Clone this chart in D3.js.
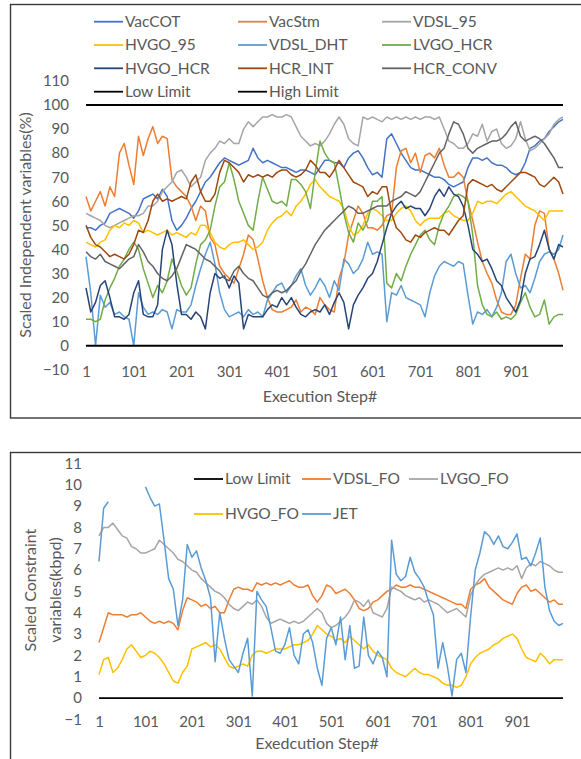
<!DOCTYPE html>
<html>
<head>
<meta charset="utf-8">
<script src="https://cdn.jsdelivr.net/npm/d3@7"></script>
<style>
  body { margin: 0; background: #fff; }
  text { font-family: Lato, "Open Sans", sans-serif; fill: #595959; }
</style>
</head>
<body>
<svg id="chart" width="581" height="759"></svg>
<script>
"use strict";

// execution steps sampled every 10 steps (1..991) plus the last one
var steps = d3.range(1, 1000, 10).concat([1000]);
var xTicks = [1, 101, 201, 301, 401, 501, 601, 701, 801, 901];
var yTicksTop = [-10, 0, 10, 20, 30, 40, 50, 60, 70, 80, 90, 100, 110];
var yTicksBottom = [-1, 0, 1, 2, 3, 4, 5, 6, 7, 8, 9, 10, 11];

// ---- top chart: scaled independent variables (%) ----
var vacCOT = [
  49,49,48,50,51,55,56,57,56,55,
  53,56,61,62,63,61,65,62,52,48,
  50,53,57,60,64,68,70,73,76,78,
  77,76,75,76,77,82,78,76,77,76,
  75,74,74,73,72,73,73,72,71,74,
  77,77,76,76,74,78,80,81,78,74,
  71,72,70,86,88,84,80,77,74,73,
  73,72,71,70,70,69,67,66,67,68,
  74,78,78,77,78,76,75,75,74,72,
  71,72,76,82,83,85,86,89,91,93,
  94];
var vacStm = [
  62,56,60,64,58,66,62,80,84,75,
  67,87,79,86,91,84,87,86,69,66,
  64,62,58,52,58,56,45,42,33,30,
  28,26,32,38,46,44,36,27,20,15,
  14,14,15,16,19,14,16,15,13,20,
  17,15,14,28,34,46,52,58,55,49,
  49,48,50,54,55,74,81,82,76,80,
  72,79,80,78,82,75,70,70,72,70,
  60,52,43,35,30,26,19,14,13,13,
  17,28,38,36,50,56,55,40,36,30,
  23];
var vdsl95 = [
  55,54,53,52,50,49,50,51,52,53,
  54,54,55,58,58,60,64,66,68,72,
  73,70,66,68,70,77,80,82,85,84,
  86,84,84,90,93,91,93,95,95,96,
  95,95,96,95,91,87,85,83,84,83,
  85,88,92,95,92,86,84,83,95,94,
  95,94,93,95,94,95,94,95,94,95,
  94,95,95,94,95,90,85,84,82,82,
  84,88,87,92,85,89,90,84,82,83,
  86,93,86,81,82,84,86,88,92,94,
  95];
var hvgo95 = [
  43,42,41,43,44,48,50,49,51,50,
  52,51,47,48,47,46,47,48,46,47,
  46,45,47,46,50,50,47,43,41,40,
  42,43,43,44,42,40,41,43,48,51,
  53,54,56,54,58,60,63,67,69,66,
  64,62,61,60,57,50,46,47,50,55,
  57,56,54,52,52,55,57,58,56,52,
  50,52,53,53,53,55,56,54,53,52,
  52,55,60,59,60,60,59,61,63,64,
  62,60,58,57,56,54,52,56,56,56,
  56];
var vdslDHT = [
  37,22,0,21,16,18,13,14,12,11,
  0,22,16,13,14,13,15,14,7,15,
  14,14,17,25,32,38,43,34,22,15,
  12,13,14,12,15,13,14,12,19,22,
  25,26,22,25,29,32,25,21,24,28,
  25,20,27,23,36,34,30,32,36,43,
  38,39,38,10,22,21,25,20,19,18,
  17,12,22,29,33,35,34,33,35,34,
  21,9,14,13,15,12,16,22,35,38,
  30,24,25,22,28,35,38,39,38,40,
  46];
var lvgoHCR = [
  11,11,10,11,19,24,28,33,36,40,
  43,40,32,26,20,25,22,27,36,31,
  25,21,24,34,42,44,48,58,66,68,
  76,69,60,55,50,48,60,70,65,60,
  59,60,58,69,69,67,64,57,72,85,
  80,77,76,66,55,47,43,51,48,52,
  60,60,62,26,24,30,27,33,38,42,
  46,48,44,42,50,55,58,62,63,62,
  60,46,25,17,13,12,14,11,12,11,
  13,18,22,16,12,13,19,9,12,13,
  13];
var hvgoHCR = [
  24,14,18,25,27,20,12,12,11,13,
  22,27,13,12,12,17,40,48,42,26,
  13,13,11,14,12,7,22,30,28,29,
  24,29,26,7,13,12,12,12,15,17,
  16,20,17,20,16,13,12,14,15,14,
  17,13,18,22,18,7,17,21,24,28,
  30,35,42,49,55,58,60,57,58,57,
  57,54,57,62,65,62,66,63,62,58,
  50,40,38,35,36,32,27,25,20,17,
  14,19,30,36,37,42,48,40,36,42,
  41];
var hcrINT = [
  50,45,42,41,39,37,38,37,36,38,
  42,48,47,52,60,63,60,61,60,61,
  62,61,68,71,64,60,60,63,72,77,
  76,74,72,68,71,70,71,70,71,70,
  72,73,73,71,70,71,73,77,75,72,
  72,70,73,77,74,71,68,67,66,62,
  64,63,66,66,55,49,47,44,43,46,
  45,47,48,49,48,48,46,49,52,54,
  67,69,68,67,66,67,65,64,66,68,
  70,72,72,71,70,67,66,68,70,68,
  63];
var hcrCONV = [
  39,37,36,38,35,34,33,32,34,36,
  37,42,39,35,33,30,28,27,29,32,
  37,42,41,40,38,36,35,33,31,28,
  27,31,33,30,28,27,24,21,20,22,
  23,22,23,25,27,31,34,38,42,45,
  48,50,52,54,56,58,57,55,55,56,
  57,58,58,58,60,61,62,64,63,62,
  64,68,72,76,80,82,88,93,92,88,
  82,80,82,83,84,85,85,86,88,91,
  93,87,85,86,87,86,84,81,78,74,
  74];
var topLimits = [0, 100];

// ---- bottom chart: scaled constraint variables (kbpd) ----
var vdslFO = [
  2.6,3.3,4.0,3.9,3.9,3.9,3.8,3.9,3.9,4.0,
  3.8,3.6,3.5,3.6,3.5,3.6,3.5,3.2,4.1,4.7,
  4.6,4.5,4.3,4.4,4.2,4.3,4.0,4.0,4.6,5.1,
  5.2,5.1,5.1,5.0,5.4,5.3,5.4,5.3,5.4,5.3,
  5.4,5.5,5.3,5.2,5.2,5.3,4.8,4.5,4.8,5.3,
  5.2,4.9,5.0,5.1,4.9,4.6,4.2,4.1,4.2,4.5,
  4.6,4.8,5.0,5.1,5.3,5.2,5.2,5.3,5.2,5.2,
  5.1,5.0,4.9,4.8,4.7,4.6,4.5,4.4,4.4,4.2,
  5.1,5.3,5.4,5.6,5.2,5.0,4.8,4.6,4.5,4.4,
  4.9,5.2,5.3,5.0,5.1,4.9,4.7,4.5,4.6,4.4,
  4.4];
var lvgoFO = [
  7.6,8.0,8.0,8.2,7.9,7.6,7.5,7.1,7.0,6.8,
  6.8,6.9,7.0,7.4,7.2,7.0,6.8,6.5,6.4,6.2,
  6.0,5.9,5.6,5.4,5.2,5.0,4.9,4.7,4.4,4.2,
  4.1,4.3,4.5,4.4,4.6,4.3,3.8,3.5,3.6,3.7,
  3.6,3.5,3.6,3.5,3.6,3.8,4.0,4.2,4.0,3.5,
  3.3,3.4,3.6,3.8,4.1,4.6,4.5,4.3,4.6,4.0,
  3.9,3.8,4.2,5.2,5.1,5.0,4.8,4.7,4.6,4.7,
  4.5,4.6,4.5,4.4,4.2,4.0,4.1,4.2,4.0,3.8,
  4.8,5.3,5.6,5.8,5.9,6.0,6.1,6.0,6.1,6.0,
  6.2,5.6,6.1,6.3,6.2,6.4,6.3,6.2,6.0,5.9,
  5.9];
var hvgoFO = [
  1.1,1.8,1.9,1.2,1.4,1.8,2.3,2.5,2.2,1.9,
  2.0,2.2,2.1,1.9,1.6,1.2,0.8,0.7,1.2,1.5,
  2.3,2.4,2.5,2.6,2.4,2.5,2.3,1.9,1.5,1.4,
  1.5,1.6,1.5,2.0,2.2,2.2,2.1,2.2,2.3,2.3,
  2.3,2.4,2.5,2.5,2.6,2.7,3.0,3.4,3.2,3.0,
  2.9,2.7,2.8,2.6,2.9,2.7,2.5,2.3,2.5,2.2,
  2.0,1.9,1.8,1.4,1.2,1.1,1.0,1.2,1.4,1.2,
  1.1,1.1,1.0,0.9,0.7,0.6,0.6,0.5,0.6,1.0,
  1.6,1.9,2.1,2.2,2.3,2.5,2.6,2.8,2.9,3.0,
  2.8,2.3,1.9,1.8,1.7,2.1,1.9,1.6,1.8,1.8,
  1.8];
var jet = [
  6.4,8.9,9.2,null,null,null,null,null,null,null,
  9.9,9.4,9.0,9.1,7.4,5.6,5.1,3.4,4.6,7.2,
  6.6,6.9,6.1,5.5,4.7,1.7,4.0,2.8,1.8,1.5,
  1.2,2.1,2.8,0.1,5.0,4.6,4.3,3.3,2.2,2.1,
  2.5,3.3,2.0,1.6,3.0,3.2,2.6,1.4,0.6,2.8,
  3.3,2.5,3.8,1.8,3.4,1.4,1.5,3.8,2.0,1.6,
  2.2,1.9,1.0,7.4,5.8,5.5,5.7,6.6,5.9,5.6,
  5.2,4.5,3.9,1.4,2.6,1.5,0.1,1.8,2.1,1.2,
  3.8,6.0,6.8,7.8,7.6,7.2,7.6,7.1,7.0,7.3,
  7.7,6.5,6.6,6.2,6.8,7.5,5.2,4.1,3.6,3.4,
  3.5];
var bottomLimits = [0];

var svg = d3.select("#chart");

function drawPanel(p) {
  var g = svg.append("g");

  g.append("rect")
    .attr("x", p.box[0]).attr("y", p.box[1])
    .attr("width", p.box[2]).attr("height", p.box[3])
    .attr("fill", "none").attr("stroke", "#3a3a3a").attr("stroke-width", 1.4);

  var x = d3.scaleLinear().domain([1, 1000]).range(p.xRange);
  var y = d3.scaleLinear().domain(p.yDomain).range(p.yRange);

  // tick labels only, no axis lines
  var ya = g.append("g")
    .attr("transform", "translate(" + p.yLabelX + ",0)")
    .call(d3.axisLeft(y).tickValues(p.yTicks).tickSize(0).tickPadding(0));
  ya.select(".domain").remove();
  ya.selectAll("text").attr("font-size", 15).attr("font-family", null).attr("fill", "#595959");

  var xa = g.append("g")
    .attr("transform", "translate(0," + p.xLabelY + ")")
    .call(d3.axisBottom(x).tickValues(p.xTicks).tickSize(0).tickPadding(0));
  xa.select(".domain").remove();
  xa.selectAll("text").attr("font-size", 15).attr("font-family", null).attr("fill", "#595959");

  var line = d3.line()
    .defined(function(d) { return d != null; })
    .x(function(d, i) { return x(steps[i]); })
    .y(function(d) { return y(d); });

  // series, drawn in Excel order; limits are flat lines over the step range
  p.series.forEach(function(s) {
    if (s.limit != null) {
      g.append("line")
        .attr("x1", x(1)).attr("x2", x(1000))
        .attr("y1", y(s.limit)).attr("y2", y(s.limit))
        .attr("stroke", s.color).attr("stroke-width", 1.8);
    } else {
      g.append("path")
        .datum(s.values)
        .attr("d", line)
        .attr("fill", "none")
        .attr("stroke", s.color)
        .attr("stroke-width", 1.5)
        .attr("stroke-linejoin", "round");
    }
  });

  // legend
  p.legend.forEach(function(item, i) {
    var col = i % p.legendCols, row = Math.floor(i / p.legendCols);
    var lx = p.legendX[col], ly = p.legendY[row];
    g.append("line")
      .attr("x1", lx).attr("x2", lx + 29)
      .attr("y1", ly).attr("y2", ly)
      .attr("stroke", item.color).attr("stroke-width", 1.8);
    g.append("text")
      .attr("x", lx + 31).attr("y", ly)
      .attr("dy", "0.35em")
      .attr("font-size", 15.5)
      .text(item.name);
  });

  // axis titles
  g.append("text")
    .attr("x", p.xTitle[0]).attr("y", p.xTitle[1])
    .attr("text-anchor", "middle").attr("font-size", 16)
    .text(p.xTitleText);

  p.yTitleText.forEach(function(t, i) {
    g.append("text")
      .attr("transform", "translate(" + p.yTitle[i][0] + "," + p.yTitle[i][1] + ") rotate(-90)")
      .attr("text-anchor", "middle").attr("font-size", 16)
      .text(t);
  });
}

var topColors = ["#4472C4", "#ED7D31", "#A5A5A5", "#FFC000", "#5B9BD5", "#70AD47", "#264478", "#9E480E", "#636363"];
var topNames = ["VacCOT", "VacStm", "VDSL_95", "HVGO_95", "VDSL_DHT", "LVGO_HCR", "HVGO_HCR", "HCR_INT", "HCR_CONV"];
var topValues = [vacCOT, vacStm, vdsl95, hvgo95, vdslDHT, lvgoHCR, hvgoHCR, hcrINT, hcrCONV];

var topSeries = topNames.map(function(n, i) { return { name: n, values: topValues[i], color: topColors[i] }; });
topSeries.push({ name: "Low Limit", limit: topLimits[0], color: "#000" });
topSeries.push({ name: "High Limit", limit: topLimits[1], color: "#000" });

drawPanel({
  box: [10.5, 4.5, 640, 413.5],
  xRange: [86, 563],
  yDomain: [-10, 110],
  yRange: [369.8, 80.9],
  yTicks: yTicksTop,
  xTicks: xTicks,
  yLabelX: 69,
  xLabelY: 366,
  series: topSeries,
  legend: topSeries,
  legendCols: 3,
  legendX: [94, 238, 382],
  legendY: [21.7, 45, 68.3, 91.7],
  xTitle: [320, 402],
  xTitleText: "Execution Step#",
  yTitle: [[31, 225]],
  yTitleText: ["Scaled Independent variables(%)"]
});

var botSeries = [
  { name: "Low Limit", limit: bottomLimits[0], color: "#000" },
  { name: "VDSL_FO", values: vdslFO, color: "#ED7D31" },
  { name: "LVGO_FO", values: lvgoFO, color: "#A5A5A5" },
  { name: "HVGO_FO", values: hvgoFO, color: "#FFC000" },
  { name: "JET", values: jet, color: "#5B9BD5" }
];

drawPanel({
  box: [10.5, 452.5, 640, 400],
  xRange: [99, 563],
  yDomain: [-1, 11],
  yRange: [719.4, 463.4],
  yTicks: yTicksBottom,
  xTicks: xTicks,
  yLabelX: 82,
  xLabelY: 716,
  series: botSeries,
  legend: botSeries,
  legendCols: 3,
  legendX: [194, 302, 409],
  legendY: [479, 514],
  xTitle: [317, 749],
  xTitleText: "Exedcution Step#",
  yTitle: [[36, 590], [61, 590]],
  yTitleText: ["Scaled Constraint", "variables(kbpd)"]
});
</script>
</body>
</html>
